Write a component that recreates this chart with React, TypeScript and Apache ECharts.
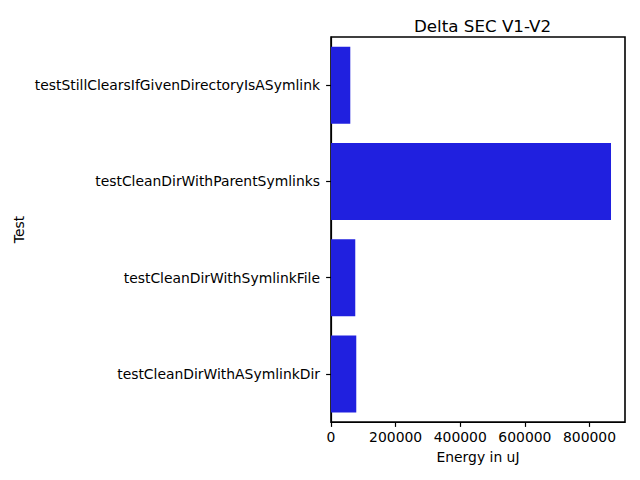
import React, { useEffect, useRef } from "react";
import * as echarts from "echarts";

const categories = [
  "testStillClearsIfGivenDirectoryIsASymlink",
  "testCleanDirWithParentSymlinks",
  "testCleanDirWithSymlinkFile",
  "testCleanDirWithASymlinkDir",
];
const energyValues = [59700, 866500, 75100, 78200];
const xTicks = [0, 200000, 400000, 600000, 800000];

export default function App() {
  const ref = useRef<HTMLDivElement>(null);
  useEffect(() => {
    if (!ref.current) return;
    const chart = echarts.init(ref.current, undefined, { renderer: "svg" });
    const font = "DejaVu Sans";
    const line = { color: "#000", width: 1.2 };
    chart.setOption({
      animation: false,
      backgroundColor: "#ffffff",
      title: {
        text: "Delta SEC V1-V2",
        left: 409,
        top: 12,
        textStyle: { fontFamily: font, fontSize: 16.7, fontWeight: "normal", color: "#000" },
      },
      grid: {
        left: 331,
        right: 15,
        top: 37,
        bottom: 58,
        show: true,
        borderColor: "#000000",
        borderWidth: 1.6,
        backgroundColor: "rgba(0,0,0,0)",
      },
      xAxis: {
        type: "value",
        min: 0,
        max: 909800,
        name: "Energy in uJ",
        nameLocation: "middle",
        nameGap: 28,
        nameTextStyle: { fontFamily: font, fontSize: 13.9, color: "#000" },
        axisLine: { show: true, onZero: false, lineStyle: line },
        axisTick: { show: true, length: 4.9, lineStyle: line, customValues: xTicks },
        axisLabel: {
          fontFamily: font,
          fontSize: 13.9,
          color: "#000",
          margin: 8,
          customValues: xTicks,
          formatter: (v: number) => String(v),
        },
        splitLine: { show: false },
      },
      yAxis: {
        type: "category",
        data: categories,
        inverse: true,
        name: "Test",
        nameLocation: "middle",
        nameGap: 305,
        nameRotate: 90,
        nameTextStyle: { fontFamily: font, fontSize: 13.9, color: "#000" },
        axisLine: { show: true, onZero: false, lineStyle: line },
        axisTick: { show: true, alignWithLabel: true, length: 4.9, lineStyle: line },
        axisLabel: { fontFamily: font, fontSize: 13.9, color: "#000", margin: 11 },
        splitLine: { show: false },
      },
      series: [
        {
          type: "bar",
          data: energyValues,
          barCategoryGap: "20%",
          itemStyle: { color: "#2020df" },
        },
      ],
    });
    return () => chart.dispose();
  }, []);
  return <div ref={ref} style={{ width: 640, height: 480, position: "absolute", left: 0, top: 0 }} />;
}
